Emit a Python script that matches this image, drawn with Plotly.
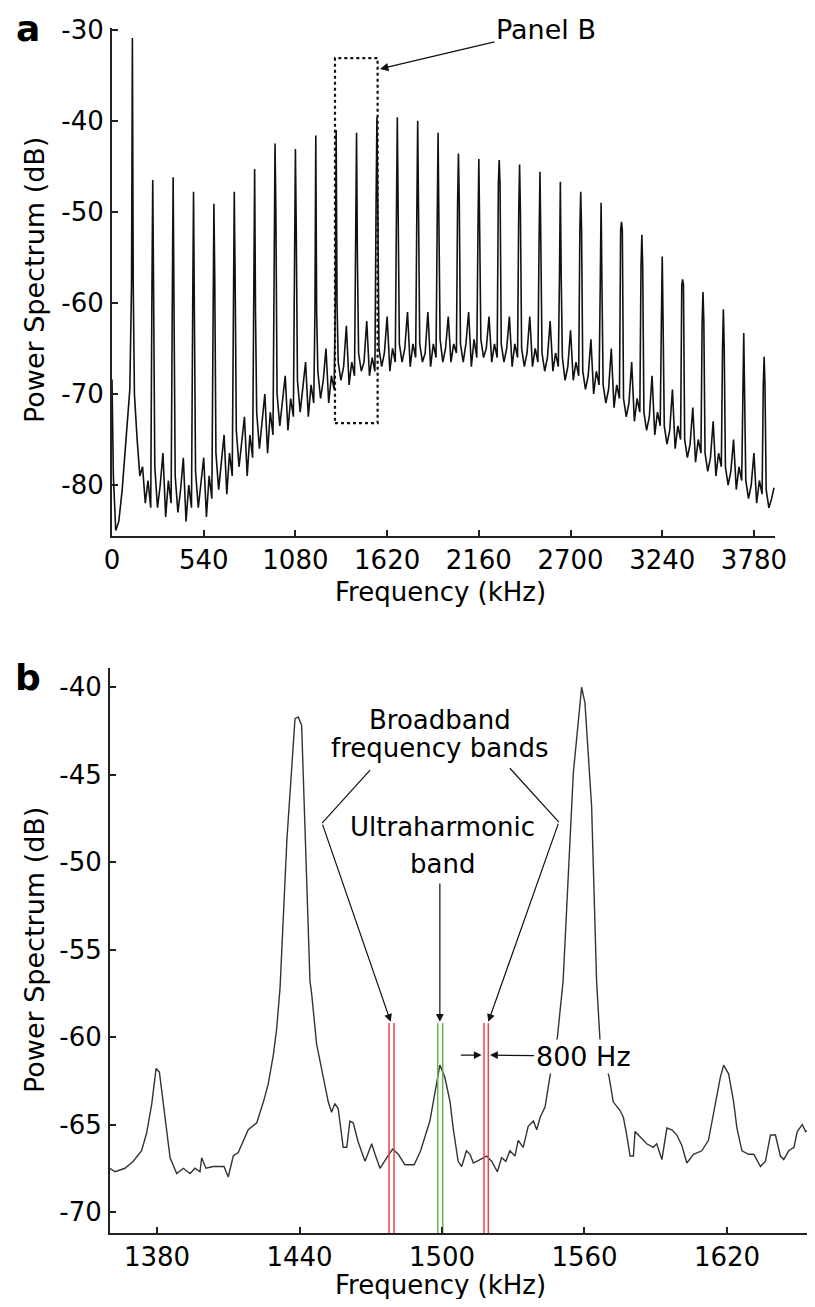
import plotly.graph_objects as go

FONT = "DejaVu Sans"

# ---------------- panel a : full spectrum ----------------
# harmonics of the 120 kHz drive (kHz) and their peak levels (dB)
harm_khz = [120, 240, 360, 480, 600, 720, 840, 960, 1080, 1200, 1320, 1440, 1560, 1680, 1800, 1920,
            2040, 2160, 2280, 2400, 2520, 2640, 2760, 2880, 3000, 3120, 3240, 3360, 3480, 3600, 3720, 3840]
harm_db = [-30.9, -46.5, -46.2, -47.8, -49.1, -47.8, -45.3, -42.5, -43.1, -41.6, -41.0, -41.3,
           -39.6, -39.6, -40.0, -41.3, -43.6, -44.2, -44.3, -44.8, -45.6, -46.7, -47.8, -49.0,
           -51.1, -52.5, -54.9, -57.4, -58.8, -60.7, -63.3, -65.9]
# level where each spike widens out
harm_shoulder_db = [-58, -59, -60, -61, -57, -57, -61, -50, -52, -61, -60, -55,
                    -49, -50, -50, -51, -49, -52, -47, -50, -53, -57, -52, -58,
                    -52, -56, -62, -58, -62, -65, -70, -69]
# ultraharmonic bumps half way between harmonics
ultra_db = [-78, -76.5, -77, -77, -74.5, -72.5, -70, -68, -66.5, -65, -62.5, -62,
            -61.5, -61, -61, -61.5, -61, -61.5, -61.5, -61.5, -62, -63, -64, -65,
            -66.5, -68, -69.5, -71.5, -73, -75, -76.5]
# noise floor samples between harmonics (one row per gap)
floor_offsets_khz = [12, 28, 44, 76, 92, 108]
floor_db = [
    [-70, -75, -79, -82, -79.5, -82.5],
    [-78, -82.5, -80, -83.5, -79.5, -82],
    [-79, -83, -80.5, -84, -80, -82.5],
    [-78.5, -82.5, -80, -83.5, -79, -81.5],
    [-76.5, -80.5, -77.5, -81, -76.5, -79],
    [-74, -78, -75.5, -79, -74.5, -77],
    [-72, -76, -73, -76.5, -72, -74.5],
    [-70, -73.5, -71, -74, -70.5, -72.5],
    [-68.5, -72, -69.5, -72.5, -69, -71],
    [-67.5, -70.5, -68.5, -71, -68, -69.5],
    [-66.5, -68.5, -67, -69, -66.5, -68],
    [-65.5, -67.5, -66.5, -68, -66, -67.5],
    [-65, -67, -65.5, -67.5, -65, -66.5],
    [-64.5, -66.5, -65, -67, -64.5, -66],
    [-64.5, -66.5, -65.5, -67, -64.5, -66],
    [-64, -66.5, -65, -66.5, -64.5, -65.5],
    [-64.5, -66.5, -64.5, -67, -64, -66],
    [-64, -66, -65, -66.5, -64.5, -66],
    [-64.5, -66.5, -65, -67, -64.5, -66],
    [-65, -67, -65.5, -67, -65, -66.5],
    [-65.5, -67.5, -66, -67.5, -65.5, -67],
    [-66, -68.5, -67, -68.5, -66.5, -68],
    [-67.5, -69.5, -68, -70, -67.5, -69],
    [-69, -71, -69.5, -71.5, -69, -70.5],
    [-70.5, -72.5, -71, -73, -70.5, -72],
    [-72, -74, -72.5, -74.5, -72, -73.5],
    [-73.5, -75.5, -74, -76, -73.5, -75],
    [-75, -77, -75.5, -77.5, -75, -76.5],
    [-76.5, -78.5, -77, -79, -76.5, -78],
    [-78, -80, -78.5, -80.5, -78, -79.5],
    [-79.5, -81.5, -80, -82, -79.5, -81],
]
lead_khz = [0, 8, 22, 40, 60, 82, 105]
lead_db = [-68.4, -79, -85, -84, -80.5, -75.5, -69.5]
tail_khz = [3852, 3868, 3884, 3898]
tail_db = [-80.5, -82.5, -81.5, -80.3]

# ---------------- panel b : zoom 1360-1660 kHz ----------------
b_khz = [1360.2, 1362.3, 1366.5, 1370.0, 1373.5, 1375.6, 1377.8, 1379.6, 1381.0, 1382.6,
         1384.1, 1385.5, 1388.3, 1391.1, 1393.9, 1396.0, 1398.1, 1398.8, 1400.6, 1403.7,
         1406.5, 1408.2, 1410.0, 1412.1, 1414.2, 1416.3, 1418.4, 1422.0, 1424.8, 1426.8,
         1429.0, 1430.4, 1431.8, 1434.7, 1438.1, 1439.5, 1440.9, 1444.4, 1445.1, 1447.2,
         1449.3, 1452.1, 1453.5, 1454.9, 1456.3, 1458.4, 1459.9, 1461.2, 1462.6, 1464.7,
         1467.6, 1470.4, 1471.8, 1473.9, 1476.7, 1479.2, 1481.6, 1484.4, 1488.3, 1491.0,
         1494.9, 1497.0, 1499.1, 1501.2, 1503.4, 1504.7, 1506.8, 1508.3, 1510.3, 1511.8,
         1513.2, 1516.0, 1518.8, 1520.9, 1523.3, 1525.1, 1526.9, 1528.6, 1530.7, 1532.1,
         1534.2, 1536.3, 1538.5, 1539.9, 1541.3, 1543.4, 1545.4, 1548.6, 1551.0, 1555.3,
         1558.1, 1558.8, 1560.2, 1563.0, 1565.1, 1566.5, 1570.4, 1572.1, 1575.0, 1576.4,
         1577.8, 1579.2, 1580.6, 1581.3, 1583.4, 1586.2, 1589.0, 1590.4, 1592.6, 1594.7,
         1596.8, 1598.9, 1601.0, 1603.1, 1605.9, 1609.4, 1612.2, 1615.0, 1617.2, 1618.6,
         1620.7, 1622.8, 1624.2, 1626.3, 1629.1, 1631.3, 1634.1, 1636.2, 1638.3, 1640.4,
         1642.5, 1643.9, 1646.0, 1648.2, 1649.6, 1651.7, 1653.1, 1655.2, 1657.3]
b_db = [-67.5, -67.7, -67.5, -67.1, -66.5, -65.5, -63.8, -61.8, -62.0, -63.7,
        -65.5, -66.9, -67.8, -67.5, -67.8, -67.5, -67.7, -66.9, -67.5, -67.4,
        -67.4, -67.4, -68.0, -66.8, -66.6, -65.9, -65.3, -64.9, -63.7, -62.7,
        -61.0, -59.5, -57.2, -48.7, -41.8, -41.7, -42.2, -56.8, -57.5, -60.4,
        -61.9, -63.7, -64.3, -63.8, -64.1, -66.3, -66.3, -64.8, -64.9, -66.0,
        -67.1, -66.1, -66.7, -67.5, -66.9, -66.4, -66.7, -67.3, -67.3, -66.5,
        -64.8, -63.1, -61.6, -62.3, -63.7, -65.2, -67.1, -67.4, -66.5, -66.7,
        -67.2, -67.0, -66.8, -67.1, -67.7, -66.9, -67.1, -66.5, -66.8, -65.9,
        -66.3, -65.1, -64.8, -65.3, -64.6, -64.0, -62.3, -60.0, -56.8, -44.9,
        -40.6, -40.0, -40.9, -46.8, -56.8, -60.1, -62.3, -63.7, -64.2, -64.6,
        -65.6, -66.8, -66.8, -65.4, -65.7, -66.1, -66.3, -66.1, -67.0, -65.2,
        -65.3, -65.6, -66.2, -67.2, -66.7, -66.5, -65.9, -64.0, -62.3, -61.6,
        -62.1, -63.7, -65.2, -66.5, -66.7, -66.7, -67.4, -67.1, -65.6, -65.6,
        -66.8, -67.0, -66.5, -66.3, -65.4, -65.0, -65.4, -65.3, -65.0]

# analysis bands (edges in kHz): broadband, ultraharmonic, broadband
band_lo_khz = [1477.7, 1498.2, 1517.7]
band_hi_khz = [1479.8, 1500.3, 1519.5]
band_colors = ["#e5464e", "#5cb548", "#e5464e"]
band_top_db = -59.2

a_xrange = [0, 3904]
a_yrange = [-85.6, -29.8]
b_xrange = [1360.2, 1653.7]
b_yrange = [-71.2, -38.9]

# assemble panel a trace in frequency order
pts = list(zip(lead_khz, lead_db))
for i, f in enumerate(harm_khz):
    pts += [(f - 5, harm_shoulder_db[i]), (f, harm_db[i]), (f + 5, harm_shoulder_db[i])]
    if i < len(floor_db):
        row = floor_db[i]
        pts += [(f + o, v) for o, v in zip(floor_offsets_khz[:3], row[:3])]
        pts.append((f + 60, ultra_db[i]))
        pts += [(f + o, v) for o, v in zip(floor_offsets_khz[3:], row[3:])]
pts += list(zip(tail_khz, tail_db))
a_khz = [p[0] for p in pts]
a_db = [p[1] for p in pts]

fig = go.Figure()
fig.add_trace(go.Scatter(x=a_khz, y=a_db, mode="lines", xaxis="x", yaxis="y",
                         line=dict(color="#111111", width=1.6), hoverinfo="skip"))
fig.add_trace(go.Scatter(x=b_khz, y=b_db, mode="lines", xaxis="x2", yaxis="y2",
                         line=dict(color="#333333", width=1.4), hoverinfo="skip"))

for lo, hi, col in zip(band_lo_khz, band_hi_khz, band_colors):
    fig.add_trace(go.Scatter(x=[lo, lo, None, hi, hi], y=[b_yrange[0], band_top_db, None, b_yrange[0], band_top_db],
                             mode="lines", xaxis="x2", yaxis="y2",
                             line=dict(color=col, width=1.5), hoverinfo="skip"))

# page body adds an 8px margin around the plot div
OFF = 8
W, H = 815 - 2 * OFF, 1307 - 2 * OFF


def px(x):
    return (x - OFF) / W


def py(y):
    return 1 - (y - OFF) / H


axis_common = dict(showline=True, linecolor="#222222", linewidth=2, ticks="inside", ticklen=6,
                   tickwidth=1.5, tickcolor="#222222", showgrid=False, zeroline=False, automargin=False,
                   tickfont=dict(family=FONT, size=26, color="black"))

a_yticks = [-80, -70, -60, -50, -40, -30]
b_yticks = [-70, -65, -60, -55, -50, -45, -40]

fig.update_layout(
    width=W, height=H, margin=dict(l=0, r=0, t=0, b=0, pad=0, autoexpand=False),
    paper_bgcolor="white", plot_bgcolor="white", showlegend=False,
    xaxis=dict(domain=[px(112), px(775)], range=a_xrange, anchor="y",
               tickvals=[0, 540, 1080, 1620, 2160, 2700, 3240, 3780], ticklabelstandoff=0, **axis_common),
    yaxis=dict(domain=[py(536), py(28)], range=a_yrange, anchor="x",
               tickvals=a_yticks, ticktext=[f"{v}" for v in a_yticks], ticklabelstandoff=1, **axis_common),
    xaxis2=dict(domain=[px(110), 1.0], range=b_xrange, anchor="y2",
                tickvals=[1380, 1440, 1500, 1560, 1620], ticklabelstandoff=0, **axis_common),
    yaxis2=dict(domain=[py(1233), py(668)], range=b_yrange, anchor="x2",
                tickvals=b_yticks, ticktext=[f"{v}" for v in b_yticks], ticklabelstandoff=1, **axis_common),
)

txt = dict(family=FONT, size=26, color="black")
ann = []
# panel letters and axis titles
for letter, yc in (("a", 29), ("b", 677)):
    ann.append(dict(text=f"<b>{letter}</b>", x=px(28), y=py(yc), xref="paper", yref="paper",
                    xanchor="center", yanchor="middle", showarrow=False,
                    font=dict(family=FONT, size=36, color="black")))
for yc in (280, 950):
    ann.append(dict(text="Power Spectrum (dB)", x=px(34), y=py(yc), xref="paper", yref="paper",
                    xanchor="center", yanchor="middle", showarrow=False, textangle=-90,
                    font=dict(family=FONT, size=27, color="black")))
for yc in (592, 1285):
    ann.append(dict(text="Frequency (kHz)", x=px(440), y=py(yc), xref="paper", yref="paper",
                    xanchor="center", yanchor="middle", showarrow=False,
                    font=dict(family=FONT, size=26, color="black")))

# panel a callout
ann.append(dict(text="Panel B", x=1578, y=-34.3, xref="x", yref="y", ax=2555, ay=-30.0,
                axref="x", ayref="y", showarrow=True, arrowhead=2, arrowsize=1.3, arrowwidth=1.3,
                arrowcolor="#111111", font=dict(family=FONT, size=27, color="black")))

# panel b labels
for label, xx, yy in [("Broadband", 1499.1, -41.9), ("frequency bands", 1499.1, -43.45),
                      ("Ultraharmonic", 1500.0, -48.0), ("band", 1500.0, -50.1)]:
    ann.append(dict(text=label, x=xx, y=yy, xref="x2", yref="y2", xanchor="center", yanchor="middle",
                    showarrow=False, font=txt))


def arrow(x0, y0, x1, y1):
    return dict(text="", x=x1, y=y1, ax=x0, ay=y0, xref="x2", yref="y2", axref="x2", ayref="y2",
                showarrow=True, arrowhead=2, arrowsize=1.3, arrowwidth=1.2, arrowcolor="#111111")


ann.append(arrow(1449.5, -47.77, 1478.4, -59.13))
ann.append(arrow(1549.2, -47.71, 1519.5, -59.13))
ann.append(arrow(1499.1, -51.13, 1499.1, -59.13))
ann.append(arrow(1507.3, -61.03, 1516.7, -61.03))
ann.append(dict(text="800 Hz", x=1520.2, y=-61.03, ax=1559.4, ay=-61.1, xref="x2", yref="y2",
                axref="x2", ayref="y2", showarrow=True, arrowhead=2, arrowsize=1.3, arrowwidth=1.2,
                arrowcolor="#111111", bgcolor="white", font=dict(family=FONT, size=27, color="black")))
fig.update_layout(annotations=ann)

shapes = [
    dict(type="rect", xref="x", yref="y", x0=1313, x1=1564, y0=-73.2, y1=-33.1,
         line=dict(color="#111111", width=2.2, dash="dot")),
    dict(type="line", xref="x2", yref="y2", x0=1469.7, y0=-44.74, x1=1449.5, y1=-47.77,
         line=dict(color="#111111", width=1.2)),
    dict(type="line", xref="x2", yref="y2", x0=1528.6, y0=-44.63, x1=1549.2, y1=-47.71,
         line=dict(color="#111111", width=1.2)),
]
fig.update_layout(shapes=shapes)

fig.write_html("out.html")
